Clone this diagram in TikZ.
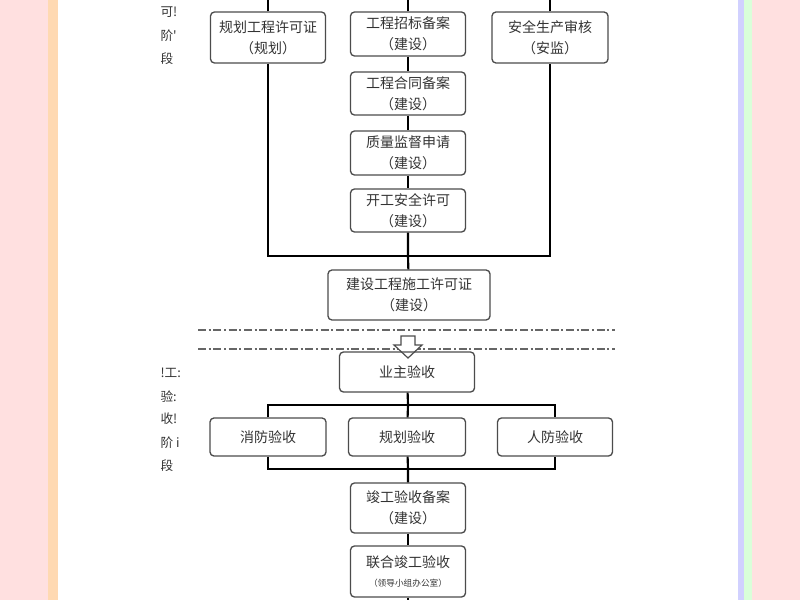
\documentclass[tikz,border=0pt]{standalone}
\usepackage{fontspec}
\newfontfamily\cjk{Noto Sans CJK SC}
\tikzset{every picture/.style={line width=0.75pt}}
\tikzset{
  box/.style={draw=black!70, rounded corners=3pt, line width=1pt, align=center, inner sep=0pt, font=\cjk\fontsize{10.5}{16}\selectfont, text=black!80},
  wire/.style={line width=1.6pt},
  side/.style={anchor=west, inner sep=0pt, font=\cjk\fontsize{9.5}{11}\selectfont, text=black!80},
  cut/.style={draw=black!60, line width=1.2pt, dash pattern=on 6pt off 2pt on 1.5pt off 2pt}
}
\begin{document}
\begin{tikzpicture}[x=0.75pt,y=0.75pt,yscale=-1,xscale=1]
    \useasboundingbox (0,0) rectangle (800,600);
    %background
    \fill[red!12] (0,0) rectangle (800,600);
    \fill[orange!30] (48,0) rectangle (60,600);
    \fill[blue!18] (736,0) rectangle (744,600);
    \fill[green!15] (744,0) rectangle (752,600);
    \fill[white] (58,0) rectangle (738,600);

    %permit stage
    \node[box, minimum width=115*0.75pt, minimum height=51*0.75pt] (plan) at (268,37.5) {规划工程许可证\\（规划）};
    \node[box, minimum width=115*0.75pt, minimum height=44*0.75pt] (bid) at (408,34) {工程招标备案\\（建设）};
    \node[box, minimum width=116*0.75pt, minimum height=51*0.75pt] (safe) at (550,37.5) {安全生产审核\\（安监）};
    \node[box, minimum width=115*0.75pt, minimum height=43*0.75pt] (contract) at (408,93.5) {工程合同备案\\（建设）};
    \node[box, minimum width=115*0.75pt, minimum height=44*0.75pt] (quality) at (408,153) {质量监督申请\\（建设）};
    \node[box, minimum width=115*0.75pt, minimum height=43*0.75pt] (start) at (408,210.5) {开工安全许可\\（建设）};
    \node[box, minimum width=162*0.75pt, minimum height=50*0.75pt] (permit) at (409,295) {建设工程施工许可证\\（建设）};
    \coordinate (joinA) at (408,256);

    \draw[wire] (plan.north) -- (plan.north |- 0,0);
    \draw[wire] (bid.north) -- (bid.north |- 0,0);
    \draw[wire] (safe.north) -- (safe.north |- 0,0);
    \draw[wire] (bid) -- (contract);
    \draw[wire] (contract) -- (quality);
    \draw[wire] (quality) -- (start);
    \draw[wire] (start) -- (joinA) -- (permit);
    \draw[wire] (plan.south) |- (joinA) -| (safe.south);

    %stage separator
    \draw[cut] (198,330) -- (615,330);
    \draw[cut] (198,349) -- (615,349);
    \draw[black!70, fill=white, line width=0.9pt] (401,336) -- (415,336) -- (415,345) -- (422,345) -- (408,358) -- (394,345) -- (401,345) -- cycle;

    %acceptance stage
    \node[box, minimum width=135*0.75pt, minimum height=40*0.75pt] (owner) at (407,372) {业主验收};
    \node[box, minimum width=116*0.75pt, minimum height=38*0.75pt] (fire) at (268,437) {消防验收};
    \node[box, minimum width=117*0.75pt, minimum height=38*0.75pt] (planok) at (407,437) {规划验收};
    \node[box, minimum width=115*0.75pt, minimum height=38*0.75pt] (civil) at (555,437) {人防验收};
    \node[box, minimum width=115*0.75pt, minimum height=50*0.75pt] (record) at (408,508) {竣工验收备案\\（建设）};
    \node[box, minimum width=115*0.75pt, minimum height=51*0.75pt, font=\cjk\fontsize{10.5}{14}\selectfont] (joint) at (408,571.5) {联合竣工验收\\{\fontsize{6.5}{8}\selectfont（领导小组办公室）}};
    \coordinate (splitB) at (408,405);
    \coordinate (joinB) at (408,469);

    \draw[wire] (owner) -- (splitB) -- (planok);
    \draw[wire] (fire.north) |- (splitB) -| (civil.north);
    \draw[wire] (fire.south) |- (joinB) -| (civil.south);
    \draw[wire] (planok) -- (joinB) -- (record);
    \draw[wire] (record) -- (joint);
    \draw[wire] (joint.south) -- (joint.south |- 0,600);

    %stage labels
    \node[side] (p1) at (160,12) {可!};
    \node[side] (p2) at (160,36) {阶'};
    \node[side] (p3) at (160,59) {段};
    \node[side] (a1) at (160,373) {!工:};
    \node[side] (a2) at (160,397) {验:};
    \node[side] (a3) at (160,419) {收!};
    \node[side] (a4) at (160,443) {阶 i};
    \node[side] (a5) at (160,466) {段};
\end{tikzpicture}
\end{document}
